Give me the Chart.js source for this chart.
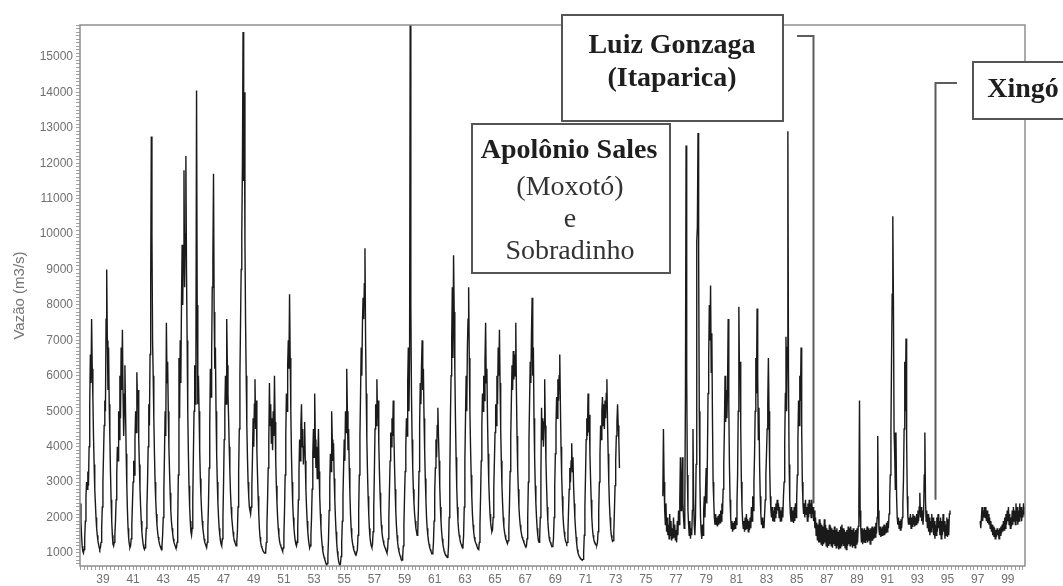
<!DOCTYPE html>
<html>
<head>
<meta charset="utf-8">
<script src="https://cdn.jsdelivr.net/npm/chart.js@4.4.1/dist/chart.umd.min.js"></script>
<style>
  html, body { margin: 0; padding: 0; background: #ffffff; }
  #wrap { position: relative; width: 1063px; height: 586px; }
  #chart { filter: blur(0.35px); }
</style>
</head>
<body>
<div id="wrap"><canvas id="chart"></canvas></div>
<script>
// Daily-flow record sampled twice a month (24 values per year).
const STEP = 1 / 24;

// 1938 - 1947
const q1938_1947 = [
  2400,1900,1500,1200,1050,1000,1100,1400,1900,2600,3000,2800,3300,2900,4000,5200,6600,5800,7600,6200,5400,4300,3500,2800,
  2400,2000,1700,1500,1350,1250,1150,1100,1150,1300,1700,2300,3000,3800,4600,5300,5000,7600,9000,7000,5600,6800,5200,4300,
  3300,2500,1900,1500,1250,1200,1300,1500,1900,2500,3200,4000,3600,5000,4200,6000,4800,6800,5600,7300,5500,4300,5000,6300,
  5000,3800,2900,2200,1700,1400,1250,1150,1200,1400,1800,2400,3000,3600,3200,4200,5000,4400,6100,5200,5600,4200,3500,2800,
  2300,1900,1600,1400,1250,1150,1100,1150,1300,1700,2300,3000,4000,5200,4600,6600,8500,12750,10000,7000,6000,4800,3800,3000,
  2500,2100,1800,1600,1450,1350,1250,1200,1150,1100,1200,1500,2000,2800,3800,5000,4300,7500,5800,6400,5000,4000,3300,2700,
  2200,1900,1700,1550,1400,1300,1250,1200,1150,1150,1300,1800,3200,6500,4800,7000,5800,8000,9700,8000,9500,11800,8500,10000,
  12200,9000,7000,5000,3800,2900,2300,1900,1600,1500,1700,2500,3800,5000,6300,5200,6500,14050,8000,5200,6000,5000,3900,3100,
  2600,2200,1900,1700,1550,1400,1300,1250,1200,1150,1300,1700,2400,3400,4600,6200,5400,6600,8500,9300,11700,7800,6200,6800,
  5000,3800,3000,2400,2000,1700,1500,1350,1250,1200,1400,2000,3000,4200,5000,6000,5200,7600,6300,5500,4800,4000,3300,2700
];

// 1948 - 1957
const q1948_1957 = [
  2300,2000,1800,1600,1450,1350,1300,1250,1200,1300,1600,2300,3300,4500,6000,7500,9000,10000,12000,15700,11500,14000,9800,7500,
  6000,4600,3700,3000,2600,2300,2200,2100,2300,2900,3700,4800,4000,5200,5900,4500,5300,3900,3200,2600,2100,1700,1450,1300,
  1200,1150,1100,1050,1050,1000,1000,1050,1300,1800,2500,3400,4200,5800,4600,5200,4100,4800,3900,5000,4300,6000,4700,3600,
  2900,2400,2000,1700,1500,1350,1250,1200,1150,1100,1050,1150,1500,2200,3200,4300,5500,5000,6300,7000,6200,8300,6500,5000,
  3800,3000,2400,2000,1700,1500,1350,1250,1200,1300,1700,2500,3300,4200,3600,4600,5200,4000,4500,3500,4000,4700,3600,2800,
  2300,1900,1600,1400,1250,1150,1200,1500,2000,2800,3800,4500,3700,5500,4200,3400,4000,3100,3700,4500,3300,2600,2100,1700,
  1400,1200,1050,950,880,820,760,700,660,700,900,1400,2200,3000,3800,3300,5000,4200,3600,4100,3100,2500,2000,1600,
  1300,1050,900,780,700,650,700,900,1300,1900,2600,3400,4200,3600,5000,4400,6200,5000,3900,4500,3400,2700,2100,1700,
  1450,1300,1200,1100,1050,1000,980,950,950,1100,1500,2200,3200,4300,5500,6800,6000,7500,8200,7600,8600,9600,7000,5500,
  4200,3300,2600,2100,1700,1450,1300,1200,1150,1250,1600,2300,3300,4500,5200,4600,5900,4800,5300,4100,3300,2700,2200,1800
];

// 1958 - 1967
const q1958_1967 = [
  1600,1450,1350,1250,1200,1150,1100,1050,1000,1100,1400,2000,2800,3600,4400,4000,4800,4300,5300,4400,3500,2800,2200,1800,
  1500,1300,1150,1050,980,920,860,820,800,900,1200,1800,2600,3300,4000,4800,4300,5800,6800,5000,6500,16200,8000,5500,
  4200,3400,2800,2400,2100,1900,1700,1600,1500,1600,2200,3300,4600,5800,5200,6300,7000,5600,6200,4800,3900,3100,2500,2000,
  1700,1500,1350,1250,1150,1100,1050,1000,980,1000,1300,1900,2700,3400,4200,3700,4600,5100,4300,3600,2900,2300,1900,1600,
  1400,1250,1150,1050,1000,960,930,900,880,900,1200,2000,3200,4800,6000,7000,8500,6500,9400,7800,6200,4800,3700,2900,
  2300,1900,1650,1500,1400,1300,1250,1200,1150,1200,1500,2300,3600,4800,6000,5000,6800,7600,8500,6500,5000,4000,3200,2600,
  2100,1800,1600,1450,1350,1300,1250,1200,1150,1120,1100,1300,1800,2600,3600,4600,5500,5000,6000,5300,6400,7500,5800,6200,
  4800,3800,3000,2500,2100,1850,1700,1600,1650,2000,2800,3600,4400,5200,4600,6000,5200,6800,6000,7300,5800,4500,3600,2900,
  2400,2000,1750,1600,1500,1400,1350,1300,1280,1350,1700,2400,3300,4300,5300,6300,5600,6700,5900,6600,6000,7500,5600,4300,
  3400,2800,2300,2000,1800,1650,1550,1450,1400,1350,1300,1250,1200,1180,1200,1400,2000,3000,4200,5300,6400,5800,7200,8200
];

// 1968 - 1973 (record interrupted mid-1973)
const q1968_1973 = [
  6000,6800,4800,3700,2900,2400,2000,1700,1500,1350,1300,1400,2000,3200,5100,4200,4800,4000,4700,5900,4600,3600,2900,2300,
  1900,1650,1450,1350,1300,1250,1200,1180,1200,1400,2000,2900,3800,4600,5400,4800,5900,5300,6000,6600,5200,4000,3200,2600,
  2100,1800,1600,1450,1350,1300,1260,1300,1600,2200,2800,3400,3000,3600,4100,3300,3700,2900,2400,2000,1700,1450,1250,1100,
  1000,950,900,870,850,830,810,800,820,1000,1500,2300,3200,4200,4800,4300,5500,4400,4900,3800,3100,2500,2000,1700,
  1500,1400,1320,1280,1250,1240,1230,1300,1600,2200,3000,3800,4600,4200,5000,5400,4600,5200,4500,5300,4800,5500,5900,4700,
  3800,3000,2400,2000,1700,1500,1400,1330,1350,1600,2200,2900,3600,4300,4700,5200,4600,4200,3400
];

// late 1976 - 1985
const q1976_1985 = [
  2600,4500,3000,2200,1800,2400,1600,2000,1500,
  1800,1400,2100,1500,1900,1350,1700,1400,2000,1450,1800,1350,1650,1300,1900,1500,2200,1800,2500,3700,2200,2800,3700,2400,
  2000,1700,2300,5500,12500,6000,3200,2200,1800,1500,1900,1400,1700,1500,2200,4500,2500,1800,1500,2000,3500,9800,10200,12850,
  9500,5000,3000,2000,1600,1400,1800,1500,2200,2600,2000,2800,3400,2400,3800,5500,6500,8000,7000,8550,6100,7200,4800,3000,
  2500,2000,1800,2100,1800,2000,1750,2050,1800,2100,1850,2200,1900,2400,2100,2800,3500,4500,6000,4700,5600,4800,5700,7600,
  5200,3500,2500,2000,1700,1900,1600,1850,1650,1900,1700,2000,1800,2400,3200,5000,7950,6000,6400,4500,3000,2300,1900,1700,
  1900,1600,2000,1650,2100,1700,1950,1600,1900,1650,2000,1700,2300,1900,2600,2200,3000,3800,5000,6500,5500,7900,6000,4200,
  5100,3500,2600,2100,1800,2000,1700,1900,1700,2100,2500,3200,3800,4500,5200,6500,5000,3500,2600,2200,2000,2300,1900,2200,
  1900,2300,2000,2400,2100,2500,2200,2400,2000,2300,1900,2200,1900,2300,2000,2600,3000,4100,5500,7100,5000,6800,12900,6000,
  3500,2500,2100,1900,2300,1900,2200,1850,2300,1900,2400,2000,2500,3200,4200,5300,4600,6000,5300,6800,4500,3000,2400,2100
];

// 1986 - 1995
const q1986_1995 = [
  2400,2000,2500,2100,2300,1900,2400,2000,2500,2100,2400,2000,2500,2100,2300,1900,2200,1700,2000,1500,1850,1350,1800,1300,
  1950,1300,1850,1250,1800,1200,1750,1250,1950,1300,1800,1200,1700,1150,1650,1200,1800,1250,1750,1200,1700,1150,1650,1250,
  1750,1200,1650,1150,1700,1200,1600,1100,1650,1150,1750,1200,1800,1250,1700,1200,1650,1150,1600,1100,1650,1200,1750,1250,
  1700,1200,1750,1250,1650,1150,1700,1200,1600,1150,1650,1250,1700,1300,1750,2400,5300,2200,1700,1300,1700,1250,1650,1300,
  1700,1300,1650,1350,1750,1300,1700,1350,1650,1250,1700,1350,1750,1350,1700,1400,1750,1450,1850,1550,2000,4300,2200,1650,
  1500,1750,1450,1700,1500,1750,1500,1800,1500,1750,1550,1850,1600,1900,1700,2100,2500,3200,4400,6500,8300,10500,8000,4400,
  3800,2800,4400,2600,2000,1800,2000,1700,1900,1650,1950,1700,2000,2400,3100,4500,6400,5000,7050,4200,2600,2000,1800,2000,
  1800,2100,1700,2000,1750,2100,1800,2050,1750,2000,1800,2100,1850,2200,1900,2300,2700,2000,2300,1900,2200,1800,2100,3200,
  4400,2500,1900,2200,1700,2100,1600,2000,1500,1900,1600,2100,1700,2000,1500,1900,1400,1800,1500,2000,1600,2100,1700,1900,
  1500,2000,1400,1900,1500,2100,1600,1900,1400,1800,1500,2000,1450,1950,1500,2100,2200
];

// late 1997 - 2000
const q1997_2000 = [
  1900,1700,2000,2300,1900,2200,2000,2300,
  2000,2300,1900,2200,1850,2100,1800,2000,1700,1900,1600,1800,1500,1750,1450,1700,1400,1650,1450,1700,1500,1650,1400,1700,
  1500,1750,1550,1800,1600,1900,1650,2000,1700,2100,1800,2200,1900,2300,1800,2100,1700,2000,1750,2200,1800,2300,1900,2200,
  1800,2400,1900,2300,1800,2200,1900,2400,2000,2300,1900,2200,2000,2400,2100,2300,2000
];

// start of each recorded stretch (decimal year) and its values
const segments = [
  [1938.0, q1938_1947],
  [1948.0, q1948_1957],
  [1958.0, q1958_1967],
  [1968.0, q1968_1973],
  [1976 + 15 / 24, q1976_1985],
  [1986.0, q1986_1995],
  [1997 + 16 / 24, q1997_2000]
];

// axis ranges and tick labels
const xRange = [1937.98, 2000.64];
const yRange = [633, 15900];
const yLabels = [1000, 2000, 3000, 4000, 5000, 6000, 7000, 8000, 9000, 10000, 11000, 12000, 13000, 14000, 15000];
const xLabelYears = [39, 41, 43, 45, 47, 49, 51, 53, 55, 57, 59, 61, 63, 65, 67, 69, 71, 73, 75, 77, 79, 81, 83, 85, 87, 89, 91, 93, 95, 97, 99];

// dam milestones: decimal year and flow where the pointer meets the record
const damMarks = [
  { year: 1986.55, flow: 2400, tabX: 797, tabY: 36 },
  { year: 1994.67, flow: 2500, tabX: 957, tabY: 83 }
];

// build the point list; gaps in the record break the line
const points = [];
let lastEnd = null;
segments.forEach(([start, vals]) => {
  const begin = Math.round(start / STEP);
  if (lastEnd !== null && begin > lastEnd + 1) {
    points.push({ x: (lastEnd + 0.5) * STEP, y: null });
  }
  vals.forEach((v, i) => points.push({ x: (begin + i) * STEP, y: v }));
  lastEnd = begin + vals.length - 1;
});

// label positions sit mid-year
const xLabelPos = xLabelYears.map(yy => 1900 + yy + 0.5);

const xTicks = [];
for (let k = Math.ceil(xRange[0] * 4); k <= Math.floor(xRange[1] * 4); k++) xTicks.push(k / 4);
const yTicks = [];
for (let v = 700; v <= 15900; v += 100) yTicks.push(v);

const isXLabel = v => xLabelPos.some(p => Math.abs(p - v) < 1e-6);

const damNotes = {
  id: 'damNotes',
  afterDraw(chart) {
    const { ctx, chartArea: a, scales: { x, y } } = chart;
    ctx.save();
    // frame of the plotting area
    ctx.strokeStyle = '#8e8e8e';
    ctx.lineWidth = 1.5;
    ctx.strokeRect(a.left, a.top, a.right - a.left, a.bottom - a.top);

    // pointers from the labels down to the record
    ctx.strokeStyle = '#5c5c5c';
    ctx.lineWidth = 2;
    damMarks.forEach(d => {
      const px = Math.round(x.getPixelForValue(d.year)) + 0.5;
      ctx.beginPath();
      ctx.moveTo(d.tabX, d.tabY);
      ctx.lineTo(px, d.tabY);
      ctx.lineTo(px, y.getPixelForValue(d.flow));
      ctx.stroke();
    });

    const box = (l, t, w, h) => {
      ctx.fillStyle = '#ffffff';
      ctx.fillRect(l, t, w, h);
      ctx.strokeStyle = '#555555';
      ctx.lineWidth = 2;
      ctx.strokeRect(l, t, w, h);
    };
    const text = (s, cx, cy, bold, color) => {
      ctx.font = (bold ? 'bold ' : '') + '28px "Liberation Serif", "Times New Roman", serif';
      ctx.fillStyle = color;
      ctx.textAlign = 'center';
      ctx.textBaseline = 'middle';
      ctx.fillText(s, cx, cy);
    };

    box(562, 15, 221, 106);
    text('Luiz Gonzaga', 672, 46, true, '#1e1e1e');
    text('(Itaparica)', 672, 79, true, '#1e1e1e');

    box(472, 124, 198, 149);
    text('Apolônio Sales', 569, 151, true, '#1e1e1e');
    text('(Moxotó)', 570, 188, false, '#333333');
    text('e', 570, 220, false, '#333333');
    text('Sobradinho', 570, 252, false, '#333333');

    box(973, 62, 100, 57);
    text('Xingó', 1023, 90, true, '#1e1e1e');
    ctx.restore();
  }
};

const tickFont = { family: '"Liberation Sans", Arial, sans-serif', size: 12 };

new Chart(document.getElementById('chart'), {
  type: 'line',
  data: {
    datasets: [{
      data: points,
      borderColor: '#1a1a1a',
      borderWidth: 1.4,
      pointRadius: 0,
      tension: 0,
      spanGaps: false
    }]
  },
  options: {
    responsive: true,
    maintainAspectRatio: false,
    animation: false,
    parsing: false,
    layout: { padding: { top: 25, right: 38, left: 0, bottom: 0 } },
    plugins: { legend: { display: false }, tooltip: { enabled: false } },
    scales: {
      x: {
        type: 'linear',
        min: xRange[0],
        max: xRange[1],
        afterBuildTicks: s => { s.ticks = xTicks.map(v => ({ value: v })); },
        afterFit: s => { s.height = 20; },
        border: { display: false },
        grid: { display: true, drawOnChartArea: false, drawTicks: true, tickLength: 4, tickColor: '#a0a0a0', tickWidth: 1 },
        ticks: {
          autoSkip: false,
          maxRotation: 0,
          padding: 2,
          color: '#707070',
          font: tickFont,
          callback: v => isXLabel(v) ? String(Math.floor(v) % 100).padStart(2, '0') : ''
        }
      },
      y: {
        type: 'linear',
        min: yRange[0],
        max: yRange[1],
        afterBuildTicks: s => { s.ticks = yTicks.map(v => ({ value: v })); },
        afterFit: s => { s.width = 80; },
        border: { display: false },
        grid: { display: true, drawOnChartArea: false, drawTicks: true, tickLength: 4, tickColor: '#a0a0a0', tickWidth: 1 },
        ticks: {
          autoSkip: false,
          padding: 3,
          color: '#707070',
          font: tickFont,
          callback: v => yLabels.includes(v) ? String(v) : ''
        },
        title: {
          display: true,
          text: 'Vazão (m3/s)',
          color: '#777777',
          font: { family: '"Liberation Sans", Arial, sans-serif', size: 15 },
          padding: { top: 11, bottom: 0 }
        }
      }
    }
  },
  plugins: [damNotes]
});
</script>
</body>
</html>
